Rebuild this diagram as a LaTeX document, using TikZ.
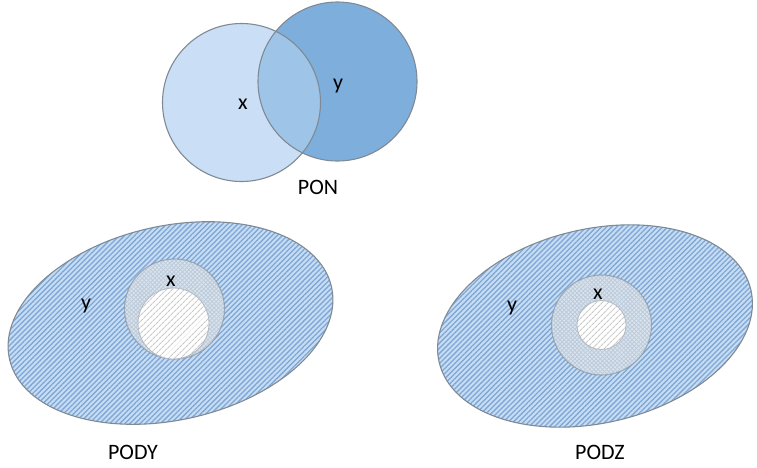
\documentclass[tikz,border=0pt]{standalone}
\usepackage{fontspec}
\setmainfont{Carlito}
\usetikzlibrary{patterns.meta}
\definecolor{xlight}{HTML}{CADFF5}
\definecolor{ydark}{HTML}{7EAEDB}
\definecolor{xymid}{HTML}{9EC4E7}
\definecolor{rimgray}{HTML}{7F8A96}
\definecolor{ybase}{HTML}{C6DDF4}
\definecolor{ystripe}{HTML}{7FA6D4}
\definecolor{xbase}{HTML}{DAE4EE}
\definecolor{xgrid}{HTML}{A9BACD}
\definecolor{holestripe}{HTML}{CACACA}
\tikzset{
  setlabel/.style = {font=\fontsize{22}{26}\selectfont, inner sep=0pt},
  rim/.style = {draw=rimgray, line width=1.1pt},
  yset/.style = {rim, preaction={fill=ybase}, pattern={Lines[angle=45, distance=3.6pt, line width=1.3pt]}, pattern color=ystripe},
  xset/.style = {rim, draw opacity=.6, preaction={fill=xbase}, pattern={Hatch[angle=45, distance=3pt, line width=.8pt]}, pattern color=xgrid},
  hole/.style = {draw=rimgray!60, line width=.8pt, preaction={fill=white}, pattern={Lines[angle=45, distance=4pt, line width=1.2pt]}, pattern color=holestripe}
}

\begin{document}
\begin{tikzpicture}[x=1pt, y=-1pt]
  \useasboundingbox (0,0) rectangle (757,467);

  % PON: two overlapping sets
  \fill[xlight] (241.5,102.5) circle (79);
  \fill[ydark] (337.5,81.5) circle (79.5);
  \begin{scope}
    \clip (241.5,102.5) circle (79);
    \fill[xymid] (337.5,81.5) circle (79.5);
  \end{scope}
  \draw[rim] (241.5,102.5) circle (79);
  \draw[rim] (337.5,81.5) circle (79.5);
  \node[setlabel] (ponx) at (243,104) {x};
  \node[setlabel] (pony) at (338,86) {y};
  \node[setlabel] (pon) at (318,187) {PON};

  % PODY
  \draw[yset, rotate around={12.6:(170.5,323)}] (170.5,323) ellipse [x radius=165, y radius=97];
  \draw[xset] (174.5,309) circle (50);
  \draw[hole] (173.5,323.5) circle (35.5);
  \node[setlabel] (podyx) at (171,281) {x};
  \node[setlabel] (podyy) at (86,306) {y};
  \node[setlabel] (pody) at (133,452) {PODY};

  % PODZ
  \draw[yset, rotate around={13:(595,326)}] (595,326) ellipse [x radius=160, y radius=97];
  \draw[xset] (601.5,325) circle (50);
  \draw[hole] (601.5,325) circle (24.5);
  \node[setlabel] (podzx) at (598,294) {x};
  \node[setlabel] (podzy) at (512,308) {y};
  \node[setlabel] (podz) at (600,452) {PODZ};
\end{tikzpicture}
\end{document}
